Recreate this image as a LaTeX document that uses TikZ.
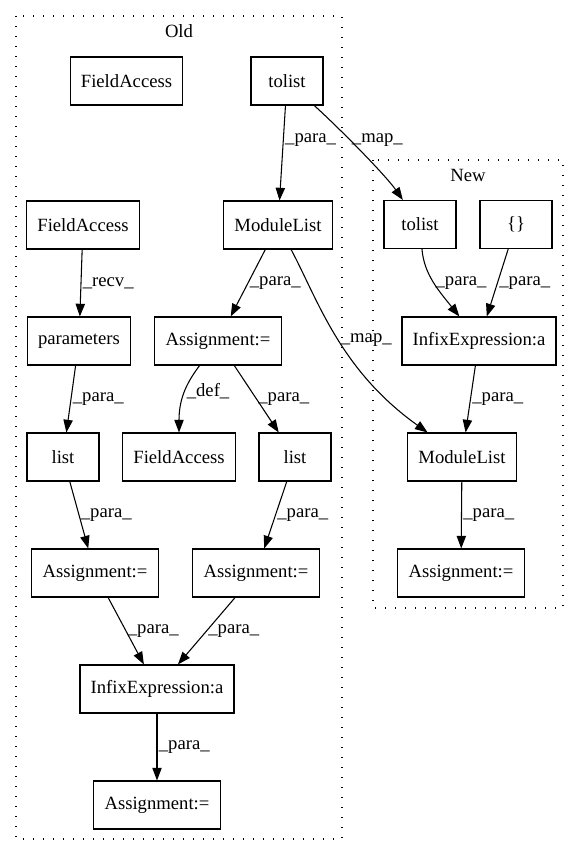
\documentclass[tikz,border=0pt]{standalone}
\usepackage{fontspec}
\setmainfont{Liberation Serif}
\usetikzlibrary{arrows.meta}
\tikzset{
    box/.style={draw, line width=0.8pt, shape=rectangle, minimum width=54pt, minimum height=36pt, inner xsep=8pt, anchor=center, font=\fontsize{14pt}{16pt}\selectfont},
    lbl/.style={anchor=west, inner sep=1pt, font=\fontsize{14pt}{16pt}\selectfont},
    cluster/.style={line width=0.8pt, dash pattern=on 1pt off 6.5pt}
}
\begin{document}
\begin{tikzpicture}[x=0.75pt, y=-0.75pt, line width=0.8pt, >={Triangle[length=9.5pt,width=7pt]}]
            \useasboundingbox (0,0) rectangle (579,856);
            \draw[cluster] (16,16) rectangle (342,839);
            \node (oldname) [font=\fontsize{14pt}{16pt}\selectfont] at (179,31) {Old};
            \draw[cluster] (373,160) rectangle (563,608);
            \node (newname) [font=\fontsize{14pt}{16pt}\selectfont] at (468,175) {New};

            \node (fa1) [box] at (126.5,81) {FieldAccess};
            \node (tolist1) [box] at (287,81) {tolist};
            \node (fa2) [box] at (83,225) {FieldAccess};
            \node (modlist1) [box] at (278,225) {ModuleList};
            \node (params) [box] at (79,341) {parameters};
            \node (assign1) [box] at (218,341) {Assignment:=};
            \node (list1) [box] at (63,457) {list};
            \node (fa3) [box] at (179,457) {FieldAccess};
            \node (list2) [box] at (295,457) {list};
            \node (assign2) [box] at (95,573) {Assignment:=};
            \node (assign3) [box] at (256,573) {Assignment:=};
            \node (infix1) [box] at (157,689) {InfixExpression:a};
            \node (assign4) [box] at (157,805) {Assignment:=};

            \node (tolist2) [box] at (420,224.5) {tolist};
            \node (braces) [box] at (516,224.5) {\{\}};
            \node (infix2) [box] at (479,341) {InfixExpression:a};
            \node (modlist2) [box] at (462,457) {ModuleList};
            \node (assign5) [box] at (461,573) {Assignment:=};

            \draw [->] (tolist1) -- node [lbl, pos=.36] {\_para\_} (modlist1);
            \draw [->] (tolist1) .. controls +(50,45) and +(-35,-50) .. node [lbl, pos=.4] {\_map\_} (tolist2);
            \draw [->] (fa2) -- node [lbl, midway] {\_recv\_} (params);
            \draw [->] (modlist1) -- node [lbl, midway] {\_para\_} (assign1);
            \draw [->] (modlist1) .. controls +(40,75) and +(-122,-87) .. node [lbl, pos=.52] {\_map\_} (modlist2);
            \draw [->] (tolist2) .. controls +(4,50) and +(-40,-50) .. node [lbl, midway] {\_para\_} (infix2);
            \draw [->] (braces) -- node [lbl, midway] {\_para\_} (infix2);
            \draw [->] (params) -- node [lbl, midway] {\_para\_} (list1);
            \draw [->] (assign1) .. controls +(-30,40) and +(0,-60) .. node [lbl, midway] {\_def\_} (fa3);
            \draw [->] (assign1) -- node [lbl, midway] {\_para\_} (list2);
            \draw [->] (infix2) -- node [lbl, midway] {\_para\_} (modlist2);
            \draw [->] (list1) -- node [lbl, midway] {\_para\_} (assign2);
            \draw [->] (list2) -- node [lbl, midway] {\_para\_} (assign3);
            \draw [->] (modlist2) -- node [lbl, midway] {\_para\_} (assign5);
            \draw [->] (assign2) -- node [lbl, midway] {\_para\_} (infix1);
            \draw [->] (assign3) -- node [lbl, midway] {\_para\_} (infix1);
            \draw [->] (infix1) -- node [lbl, midway] {\_para\_} (assign4);
\end{tikzpicture}
\end{document}
